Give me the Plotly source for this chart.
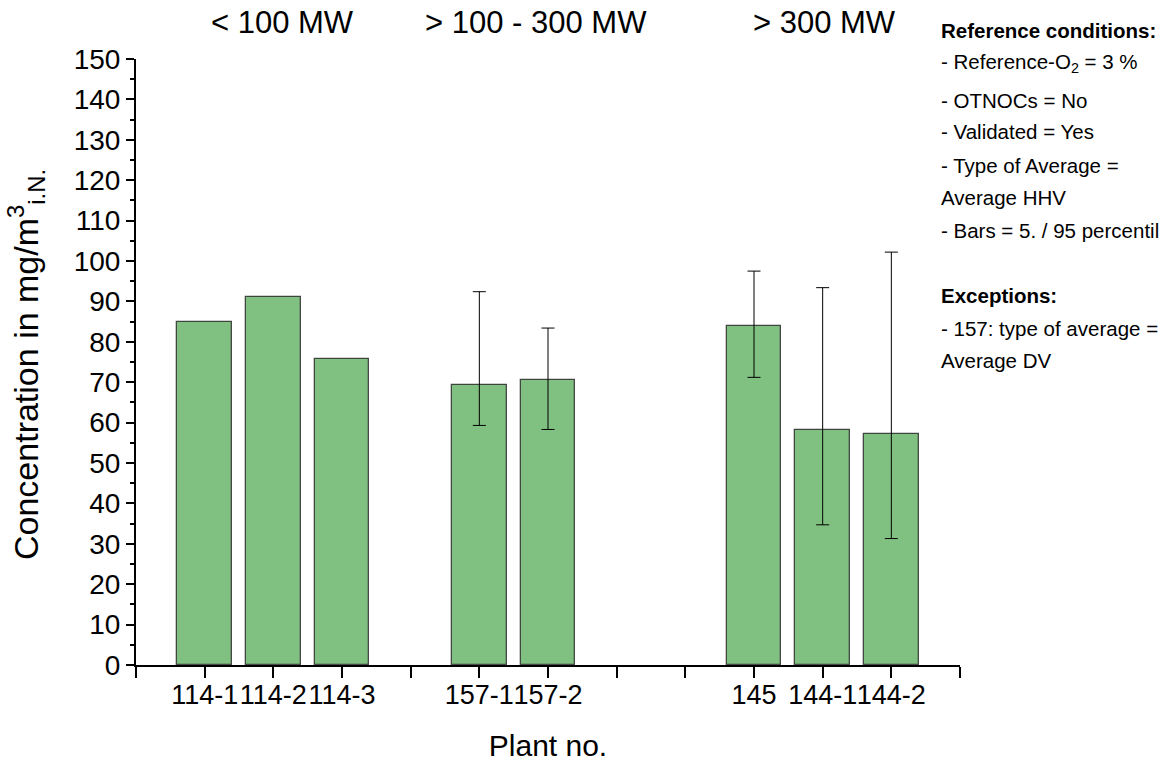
import plotly.graph_objects as go

# Plant concentrations (mean) with 5th / 95th percentile where available
plants = ["114-1", "114-2", "114-3", "157-1", "157-2", "145", "144-1", "144-2"]
slots = [1, 2, 3, 5, 6, 9, 10, 11]
mean = [84.9, 91.2, 75.8, 69.4, 70.5, 83.9, 58.1, 57.1]
p95 = [None, None, None, 92.4, 83.4, 97.5, 93.4, 102.2]
p5 = [None, None, None, 59.3, 58.3, 71.2, 34.7, 31.3]

groups = ["&lt; 100 MW", "&gt; 100 - 300 MW", "&gt; 300 MW"]
group_pos = [2.13, 5.82, 10.02]

notes = [
    ("<b>Reference conditions:</b>", 30),
    ("- Reference-O<sub>2</sub> = 3 %", 63),
    ("- OTNOCs = No", 100),
    ("- Validated = Yes", 132),
    ("- Type of Average =", 165),
    ("Average HHV", 198),
    ("- Bars = 5. / 95 percentil", 230),
    ("<b>Exceptions:</b>", 295),
    ("- 157: type of average =", 328),
    ("Average DV", 360),
]

FONT = "Liberation Sans, Arial, sans-serif"
W, H = 1170, 765
L, R, T, B = 136, 210, 59, 100
PW, PH = W - L - R, H - T - B


def px_x(px):
    return (px - L) / PW


def px_y(py):
    return (T + PH - py) / PH


fig = go.Figure()
fig.add_trace(go.Bar(
    x=slots, y=mean, width=0.8,
    marker=dict(color="#80c080", line=dict(color="rgba(45,45,45,0.85)", width=1.3)),
    showlegend=False,
))

# percentile whiskers only for plants that report them
ex, ey, eup, edn = [], [], [], []
for s, m, hi, lo in zip(slots, mean, p95, p5):
    if hi is not None:
        ex.append(s)
        ey.append(m)
        eup.append(hi - m)
        edn.append(m - lo)
fig.add_trace(go.Scatter(
    x=ex, y=ey, mode="markers", marker=dict(size=1, opacity=0),
    error_y=dict(type="data", symmetric=False, array=eup, arrayminus=edn,
                 color="black", thickness=1, width=6.5),
    showlegend=False, hoverinfo="skip",
))

ticktext = [""] * 13
for s, p in zip(slots, plants):
    ticktext[s] = p

fig.update_xaxes(
    range=[0, 12], tickvals=list(range(13)), ticktext=ticktext, tickangle=0,
    showline=True, linecolor="black", linewidth=2,
    ticks="outside", ticklen=11, tickwidth=2, tickcolor="black",
    ticklabelstandoff=-6,
    showgrid=False, zeroline=False,
    tickfont=dict(family=FONT, size=27, color="black"),
    title=dict(text="Plant no.", font=dict(family=FONT, size=30, color="black"), standoff=26),
)
fig.update_yaxes(
    range=[0, 150], dtick=10, tick0=0,
    showline=True, linecolor="black", linewidth=2,
    ticks="outside", ticklen=8, tickwidth=2, tickcolor="black",
    minor=dict(dtick=5, ticks="outside", ticklen=4, tickwidth=2, tickcolor="black", showgrid=False),
    showgrid=False, zeroline=False,
    tickfont=dict(family=FONT, size=28, color="black"),
)

annotations = [dict(
    x=px_x(26), xref="paper", y=px_y(365), yref="paper",
    text="Concentration in mg/m<sup>3</sup><sub>i.N.</sub>", textangle=-90,
    showarrow=False, xanchor="center", yanchor="middle",
    font=dict(family=FONT, size=34, color="black"),
)]
for g, gx in zip(groups, group_pos):
    annotations.append(dict(
        x=gx, xref="x", y=px_y(22), yref="paper", text=g, showarrow=False,
        xanchor="center", yanchor="middle",
        font=dict(family=FONT, size=31, color="black"),
    ))
for txt, py in notes:
    annotations.append(dict(
        x=px_x(939), xref="paper", y=px_y(py), yref="paper",
        text=txt, showarrow=False, xanchor="left", yanchor="middle",
        font=dict(family=FONT, size=20.5, color="black"),
    ))

fig.update_layout(
    width=W, height=H,
    margin=dict(l=L, r=R, t=T, b=B, autoexpand=False),
    plot_bgcolor="white", paper_bgcolor="white",
    annotations=annotations,
    bargap=0,
)

fig.write_html("out.html")
